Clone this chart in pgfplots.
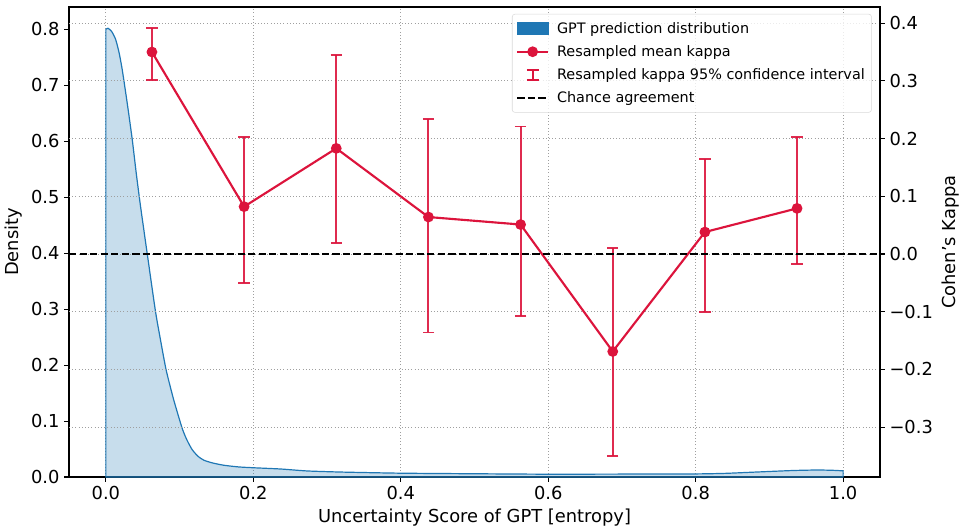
\documentclass[border=0pt]{standalone}
\usepackage{fontspec}
\setmainfont{DejaVu Sans}
\usepackage{pgfplots}
\pgfplotsset{compat=1.18}
\usepackage{pgfplotstable}

\definecolor{kappared}{RGB}{220,20,60}
\definecolor{densblue}{RGB}{31,119,180}

% Resampled kappa per entropy bin: mean and 95% interval bounds
\pgfplotstableread{
x       y       lo       hi
0.0625  0.350   0.301    0.392
0.1875  0.082  -0.051    0.203
0.3125  0.183   0.0185   0.345
0.4375  0.064  -0.136    0.234
0.5625  0.051  -0.107    0.221
0.6875 -0.169  -0.350    0.011
0.8125  0.038  -0.101    0.165
0.9375  0.079  -0.017    0.202
}\kappatable

% Kernel density estimate of the GPT entropy scores
\pgfplotstableread{
x       d
0.000   0.800
0.003   0.802
0.008   0.796
0.0133  0.782
0.018   0.758
0.0222  0.728
0.029   0.668
0.0358  0.603
0.0412  0.543
0.047   0.484
0.056   0.400
0.0673  0.296
0.0741  0.245
0.0818  0.191
0.092   0.138
0.1035  0.087
0.110   0.066
0.117   0.049
0.125   0.037
0.133   0.030
0.145   0.025
0.160   0.021
0.180   0.018
0.2005  0.0165
0.237   0.0143
0.273   0.0108
0.320   0.0088
0.400   0.0068
0.500   0.0058
0.600   0.0050
0.700   0.0052
0.800   0.0055
0.840   0.0065
0.874   0.0084
0.930   0.0115
0.964   0.0125
0.985   0.0120
1.000   0.0110
}\denstable

\newcommand\ticksize{\fontsize{13.4}{16}\selectfont}
\newcommand\legsize{\fontsize{10.8}{13}\selectfont}

\begin{document}
\begin{tikzpicture}
\path[use as bounding box] (-51.75pt,-38.25pt) rectangle (667.5pt,357.75pt);
\pgfplotsset{
  base/.style={
    at={(0,0)}, anchor=south west,
    scale only axis, width=608.25pt, height=352.5pt,
    xmin=-0.05, xmax=1.05,
    tick label style={font=\ticksize},
    label style={font=\ticksize},
    tick align=outside, major tick length=3.6pt,
    axis line style={line width=0.8pt},
    every tick/.style={black, line width=0.8pt},
    grid style={gray!75, dotted, line width=0.6pt},
    /pgf/number format/assume math mode=true,
  }
}
\begin{axis}[base,
  ymin=0, ymax=0.84,
  ytick={0,0.1,0.2,0.3,0.4,0.5,0.6,0.7,0.8},
  yticklabels={0.0,0.1,0.2,0.3,0.4,0.5,0.6,0.7,0.8},
  xtick={0,0.2,0.4,0.6,0.8,1},
  xticklabels={0.0,0.2,0.4,0.6,0.8,1.0},
  xtick pos=left, ytick pos=left,
  xmajorgrids,
  xlabel={Uncertainty Score of GPT [entropy]},
  ylabel={Density},
]
\addplot[draw=densblue, line width=0.9pt, fill=densblue, fill opacity=0.25,
  smooth, tension=0.35]
  table[x=x, y=d]{\denstable} \closedcycle;
\end{axis}

\begin{axis}[base,
  ymin=-0.3865, ymax=0.428,
  axis x line=none, axis y line*=right,
  ytick={-0.3,-0.2,-0.1,0,0.1,0.2,0.3,0.4},
  yticklabels={−0.3,−0.2,−0.1,0.0,0.1,0.2,0.3,0.4},
  ymajorgrids,
  ylabel={Cohen\char"27 s Kappa},
  legend cell align=left,
  legend style={at={(1,1)}, anchor=north east, xshift=-6.2pt, yshift=-5.2pt,
    draw=gray!30, rounded corners=2pt, fill=white, fill opacity=0.8,
    text opacity=1, font=\legsize, row sep=3.6pt, inner ysep=4pt},
]
\addlegendimage{legend image code/.code={
  \fill[densblue, fill opacity=1, sharp corners] (0pt,-4.5pt) rectangle (23pt,4.5pt);
  \path (27pt,0pt);}}
\addlegendentry{GPT prediction distribution}

% mean kappa with its 95% interval as error bars
\addplot[kappared, line width=1.6pt, mark=*, mark size=3.2pt,
  error bars/.cd, y dir=both, y explicit,
  error bar style={line width=1.4pt, draw opacity=0.9},
  error mark=-,
  error mark options={rotate=90, line width=1.4pt, mark size=4.25pt, draw opacity=0.9},
  /pgfplots/legend image code/.code={
    \draw[kappared, line width=1.6pt, sharp corners] (0pt,0pt) -- (23pt,0pt);
    \fill[kappared, fill opacity=1] (11.5pt,0pt) circle (3.2pt);
    \path (27pt,0pt);}]
  table[x=x, y=y, y error plus expr=\thisrow{hi}-\thisrow{y},
        y error minus expr=\thisrow{y}-\thisrow{lo}]{\kappatable};
\addlegendentry{Resampled mean kappa}

\addlegendimage{legend image code/.code={
  \draw[kappared, line width=1.4pt, sharp corners]
    (11.5pt,-3.75pt) -- (11.5pt,3.75pt)
    (7.1pt,-3.75pt) -- (15.9pt,-3.75pt)
    (7.1pt,3.75pt) -- (15.9pt,3.75pt);
  \path (0pt,0pt) (27pt,0pt);}}
\addlegendentry{Resampled kappa 95\% confidence interval}

\addplot[black, line width=1.1pt, dash pattern=on 5.5pt off 2.4pt,
  legend image code/.code={
    \draw[black, line width=1.1pt, sharp corners, dash pattern=on 5.5pt off 2.4pt] (0pt,0pt) -- (23pt,0pt);
    \path (27pt,0pt);}]
  coordinates {(-0.05,0) (1.05,0)};
\addlegendentry{Chance agreement}
\end{axis}
\end{tikzpicture}
\end{document}
